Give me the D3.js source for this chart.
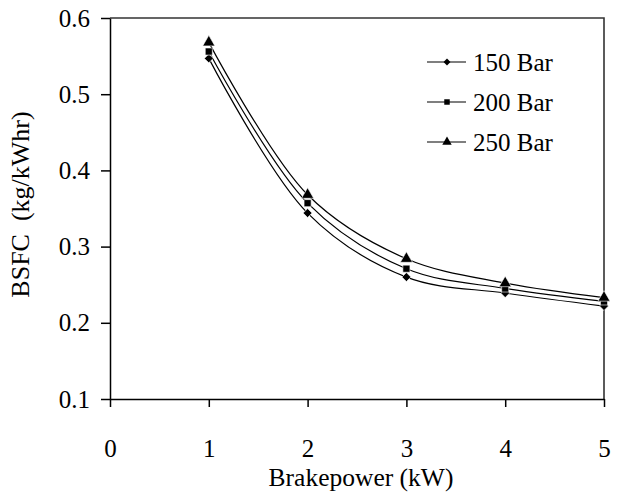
<!DOCTYPE html>
<html lang="en">
<head>
  <meta charset="UTF-8" />
  <title>BSFC vs Brakepower</title>
  <script src="https://cdn.jsdelivr.net/npm/d3@7"></script>
  <style>
    body {
      margin: 0;
      background-color: white;
    }
  </style>
</head>
<body>
  <div id="chart"></div>

  <script>
    const width = 620;
    const height = 502;
    const serif = "'Liberation Serif', 'Times New Roman', Times, serif";

    const xTicks = [0, 1, 2, 3, 4, 5];
    const yTicks = [0.1, 0.2, 0.3, 0.4, 0.5, 0.6];

    const power = [1, 2, 3, 4, 5];
    const bsfc150 = [0.547, 0.344, 0.260, 0.239, 0.222];
    const bsfc200 = [0.556, 0.357, 0.271, 0.245, 0.228];
    const bsfc250 = [0.568, 0.368, 0.284, 0.252, 0.233];

    // diamond = square turned 45 degrees
    const series = [
      { name: "150 Bar", values: bsfc150, symbol: d3.symbolSquare, angle: 45, size: 40 },
      { name: "200 Bar", values: bsfc200, symbol: d3.symbolSquare, angle: 0, size: 50 },
      { name: "250 Bar", values: bsfc250, symbol: d3.symbolTriangle, angle: 0, size: 64 }
    ];

    const margin = { top: 18, right: 16, bottom: 103, left: 110 };

    const svg = d3.select("#chart")
      .append("svg")
      .attr("width", width)
      .attr("height", height)
      .style("display", "block")
      .attr("font-family", serif)
      .attr("font-size", 25);

    const xScale = d3.scaleLinear()
      .domain([0, 5])
      .range([margin.left, width - margin.right]);

    const yScale = d3.scaleLinear()
      .domain([0.1, 0.6])
      .range([height - margin.bottom, margin.top]);

    // frame (top and right)
    svg.append("path")
      .attr("d", `M${xScale(0)},${yScale(0.6)}H${xScale(5)}V${yScale(0.1)}`)
      .attr("fill", "none")
      .attr("stroke", "#333")
      .attr("stroke-width", 1.6);

    const xAxis = d3.axisBottom(xScale)
      .tickValues(xTicks)
      .tickSize(8)
      .tickPadding(32)
      .tickSizeOuter(0)
      .tickFormat(d3.format("d"));

    const yAxis = d3.axisLeft(yScale)
      .tickValues(yTicks)
      .tickSize(9)
      .tickPadding(11)
      .tickSizeOuter(0)
      .tickFormat(d3.format(".1f"));

    svg.append("g")
      .attr("id", "x-axis")
      .attr("transform", `translate(0, ${yScale(0.1)})`)
      .call(xAxis);

    svg.append("g")
      .attr("id", "y-axis")
      .attr("transform", `translate(${xScale(0)}, 0)`)
      .call(yAxis);

    svg.selectAll("#x-axis, #y-axis")
      .attr("font-family", serif)
      .attr("font-size", 25)
      .call(g => g.selectAll("line, path").attr("stroke", "black").attr("stroke-width", 1.5))
      .call(g => g.selectAll("text").attr("fill", "black"));

    // axis titles
    svg.append("text")
      .attr("x", (xScale(0) + xScale(5)) / 2 + 4)
      .attr("y", 486)
      .attr("font-size", 25.5)
      .attr("text-anchor", "middle")
      .text("Brakepower (kW)");

    svg.append("text")
      .attr("transform", `translate(29, ${(yScale(0.1) + yScale(0.6)) / 2 - 4}) rotate(-90)`)
      .attr("font-size", 26)
      .attr("text-anchor", "middle")
      .style("white-space", "pre")
      .text("BSFC  (kg/kWhr)");

    const line = d3.line()
      .x((d, i) => xScale(power[i]))
      .y(d => yScale(d))
      .curve(d3.curveCatmullRom.alpha(0.5));

    const plot = svg.append("g");

    series.forEach(s => {
      plot.append("path")
        .datum(s.values)
        .attr("fill", "none")
        .attr("stroke", "black")
        .attr("stroke-width", 1.2)
        .attr("d", line);
    });

    series.forEach(s => {
      plot.selectAll(null)
        .data(s.values)
        .enter()
        .append("path")
        .attr("transform", (d, i) => `translate(${xScale(power[i])}, ${yScale(d)}) rotate(${s.angle})`)
        .attr("d", d3.symbol().type(s.symbol).size(s.size))
        .attr("fill", "black")
        .attr("stroke", "white")
        .attr("stroke-width", 0.6);
    });

    // Legend
    const legend = svg.append("g")
      .attr("transform", "translate(427, 62)");

    const rows = legend.selectAll("g")
      .data(series)
      .enter()
      .append("g")
      .attr("transform", (d, i) => `translate(0, ${i * 40})`);

    rows.append("line")
      .attr("x1", 0)
      .attr("x2", 39)
      .attr("stroke", "black")
      .attr("stroke-width", 1.2);

    rows.append("path")
      .attr("transform", d => `translate(20, 0) rotate(${d.angle})`)
      .attr("d", d => d3.symbol().type(d.symbol).size(d.size * 0.6)());

    rows.append("text")
      .attr("x", 46)
      .attr("dy", "0.35em")
      .text(d => d.name);
  </script>
</body>
</html>
